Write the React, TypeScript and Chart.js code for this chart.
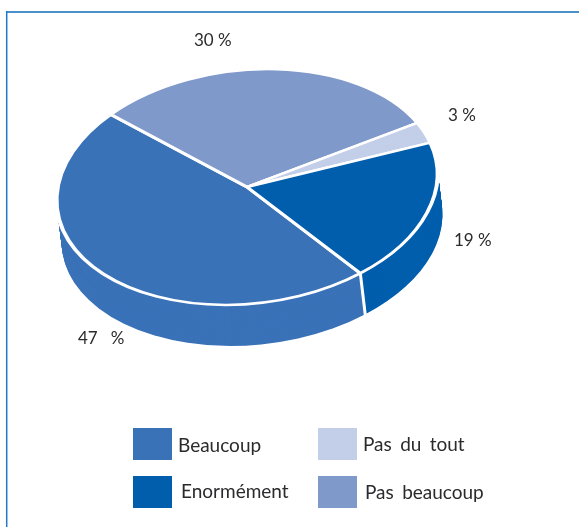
import React, { useEffect, useRef } from "react";
import { Chart, registerables } from "chart.js";

Chart.register(...registerables);

const categories = ["Beaucoup", "Pas beaucoup", "Pas du tout", "Enormément"];
const values = [47, 30, 3, 19];
const colors = ["#3A72B8", "#7F99CB", "#C3CEE9", "#005EAD"];
const valueLabels = ["47   %", "30 %", "3 %", "19 %"];
const labelSpots = [
  [78, 344],
  [194, 46],
  [448, 121],
  [454, 246],
];
const legendSpots = [
  { swatch: [133, 428], text: [178, 452] },
  { swatch: [318, 476], text: [365, 499] },
  { swatch: [318, 428], text: [363, 451] },
  { swatch: [133, 476], text: [181, 498] },
];

const SQUASH = 0.615;
const SHEAR = -0.07;
const DEPTH_X = 5;
const DEPTH_Y = 41;
const FONT = 'Lato, sans-serif';
const TEXT = "#2b2a2c";

const project = (ctx: CanvasRenderingContext2D, cx: number, cy: number) => {
  ctx.translate(cx, cy);
  ctx.transform(1, SHEAR, 0, SQUASH, 0, 0);
  ctx.translate(-cx, -cy);
};

const pie3d = {
  id: "pie3d",
  beforeDatasetsDraw(chart: any) {
    const ctx: CanvasRenderingContext2D = chart.ctx;
    const arcs = chart.getDatasetMeta(0).data;
    // side wall: sweep the sectors from the far rim to the near rim
    for (let s = DEPTH_Y; s >= 0; s -= 1) {
      const dx = (DEPTH_X * s) / DEPTH_Y;
      arcs.forEach((a: any, i: number) => {
        ctx.save();
        ctx.translate(dx, s);
        project(ctx, a.x, a.y);
        ctx.beginPath();
        ctx.moveTo(a.x, a.y);
        ctx.arc(a.x, a.y, a.outerRadius, a.startAngle, a.endAngle);
        ctx.closePath();
        ctx.fillStyle = colors[i];
        ctx.fill();
        ctx.restore();
      });
    }
    // white seam where two wall colours meet on the near side
    arcs.forEach((a: any) => {
      const sy = Math.sin(a.startAngle);
      if (sy <= 0) return;
      const ux = a.outerRadius * Math.cos(a.startAngle);
      const uy = a.outerRadius * sy;
      const px = a.x + ux;
      const py = a.y + ux * SHEAR + uy * SQUASH;
      ctx.save();
      ctx.strokeStyle = "#fff";
      ctx.lineWidth = 3;
      ctx.beginPath();
      ctx.moveTo(px, py);
      ctx.lineTo(px + DEPTH_X, py + DEPTH_Y + 1);
      ctx.stroke();
      ctx.restore();
    });
  },
  beforeDatasetDraw(chart: any) {
    const a = chart.getDatasetMeta(0).data[0];
    chart.ctx.save();
    project(chart.ctx, a.x, a.y);
  },
  afterDatasetDraw(chart: any) {
    chart.ctx.restore();
  },
  afterDraw(chart: any) {
    const ctx: CanvasRenderingContext2D = chart.ctx;
    ctx.save();
    // frame
    ctx.strokeStyle = "#4A8FC9";
    ctx.lineWidth = 2;
    ctx.beginPath();
    ctx.moveTo(6, 12);
    ctx.lineTo(579, 12);
    ctx.stroke();
    ctx.strokeStyle = "#1F78C9";
    ctx.lineWidth = 1.5;
    ctx.beginPath();
    ctx.moveTo(6.7, 527);
    ctx.lineTo(6.7, 11);
    ctx.stroke();
    // value labels
    ctx.fillStyle = TEXT;
    ctx.textAlign = "left";
    ctx.textBaseline = "alphabetic";
    ctx.font = `17px ${FONT}`;
    valueLabels.forEach((t, i) => {
      ctx.fillText(t, labelSpots[i][0], labelSpots[i][1]);
    });
    // legend
    ctx.font = `19px ${FONT}`;
    (ctx as any).wordSpacing = "3.5px";
    categories.forEach((t, i) => {
      const { swatch, text } = legendSpots[i];
      ctx.fillStyle = colors[i];
      ctx.fillRect(swatch[0], swatch[1], 39, 32);
      ctx.fillStyle = TEXT;
      ctx.fillText(t, text[0], text[1]);
    });
    ctx.restore();
  },
};

export default function App() {
  const ref = useRef<HTMLCanvasElement>(null);
  useEffect(() => {
    const chart = new Chart(ref.current!, {
      type: "pie",
      data: {
        labels: categories,
        datasets: [
          {
            data: values,
            backgroundColor: colors,
            borderColor: "#fff",
            borderWidth: 4,
            radius: 190.5,
            clip: false,
          } as any,
        ],
      },
      options: {
        responsive: false,
        animation: false,
        rotation: 143.5,
        layout: { padding: { left: 47, right: 132, top: 0, bottom: 153 } },
        plugins: { legend: { display: false }, tooltip: { enabled: false } },
      },
      plugins: [pie3d],
    });
    return () => chart.destroy();
  }, []);
  return (
    <canvas
      ref={ref}
      width={579}
      height={527}
      style={{ position: "absolute", left: 0, top: 0, display: "block", background: "#fff" }}
    />
  );
}
